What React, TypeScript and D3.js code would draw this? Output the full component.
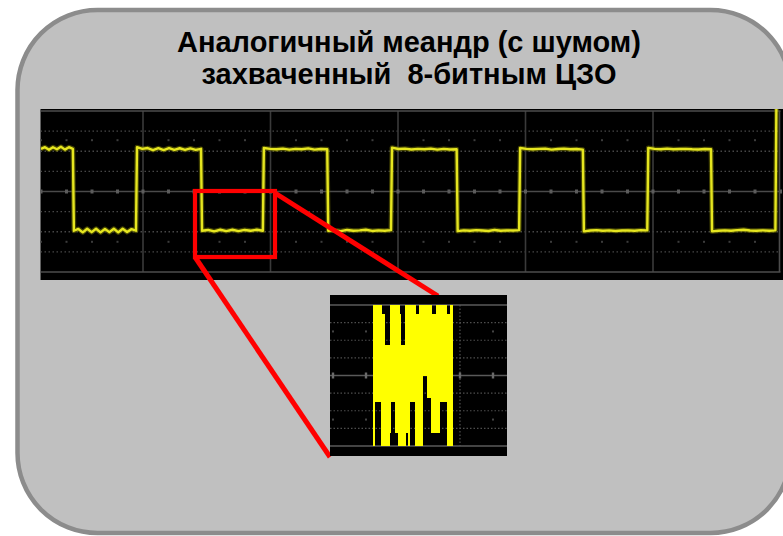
import React from 'react';
import * as d3 from 'd3';

const W = 783;
const H = 536;

// ---------- text ----------
const titleLines = ['Аналогичный меандр (с шумом)', 'захваченный  8-битным ЦЗО'];

// ---------- main scope (time & volts in divisions) ----------
const timeDomain = [-0.8, 5.0];
const voltDomain = [-4, 4];
const majorTimeLines = [0, 1, 2, 3, 4];
const dottedVoltLines = [-3, -2, -1, 1, 2, 3];
const dotRowVolts = [2.55, -2.5];
const highLevel = 2.1;
const lowLevel = -1.95;
const finalLevel = 4.4;
// edges alternate: falling, rising, falling, ...
const edgeTimes = [-0.55, -0.055, 0.455, 0.94, 1.445, 1.945, 2.46, 2.95, 3.45, 3.955, 4.455, 4.96];
// ripple samples (div) for each flat segment
const segmentRipple: number[][] = [
  [0.02, 0.1, -0.03, 0.1, 0.0, 0.12, -0.02, 0.1, 0.02],
  [0.0, 0.09, -0.08, 0.1, -0.07, 0.1, -0.08, 0.09, -0.07, 0.1, -0.08, 0.1, -0.06, 0.08, 0.0],
  [0.1, 0.02, 0.06, -0.04, 0.05, -0.04, 0.06, -0.03, 0.05, -0.03, 0.04, -0.03, 0.02],
  [0.0, 0.04, -0.03, 0.05, -0.02, 0.05, -0.02, 0.04, 0.0, 0.05, 0.0],
  [0.06, 0.02, 0.0, 0.03, -0.02, 0.02, 0.0, 0.04, -0.02, 0.01, 0.0],
  [0.0, 0.02, -0.02, 0.04, 0.0, 0.02, 0.05, -0.01, 0.02, 0.0, 0.03],
  [0.08, 0.01, 0.03, -0.01, 0.02, 0.0, 0.03, -0.02, 0.02, -0.01, 0.0],
  [-0.02, 0.02, 0.0, 0.03, 0.01, -0.01, 0.04, 0.0, 0.02, 0.01, 0.03],
  [0.06, 0.02, 0.0, 0.02, 0.03, -0.02, 0.01, 0.03, 0.0, 0.01, -0.02],
  [-0.03, 0.01, 0.03, 0.0, 0.02, -0.01, 0.01, 0.02, 0.0, 0.03, 0.02],
  [0.07, 0.02, 0.0, 0.03, 0.0, 0.01, 0.02, 0.0, -0.01, 0.01, 0.0],
  [-0.03, 0.0, 0.02, 0.0, 0.03, 0.05, 0.01, 0.0, 0.02, 0.0, 0.02],
  [0.0, 0.0],
];

// ---------- inset (zoomed 8-bit capture) ----------
const insetSampleDomain = [0, 80];
const insetCodeDomain = [0, 16];
const insetDottedCodes = [2, 4, 6, 10, 12, 14];
const insetTickSamples = [-40, -7, 87, 120];
const insetDotCodes = [13.0, 3.0];
const insetVerticalSample = 87;
const insetEdges = [0, 2, 8, 9, 12, 17, 18, 22, 25, 27, 28, 32, 33, 35, 37, 42, 43, 46, 50, 54, 58, 59, 63, 67, 74, 77, 80];
const insetLow = [0, 5, 0, 0, 0, 1.5, 5, 1.5, 0, 0, 0, 0, 1.5, 0, 5, 0, 0, 0, 8, 5.5, 1.5, 1.5, 1.5, 5, 0, 0];
const insetHigh = [16, 16, 16, 15, 11.5, 16, 16, 16, 16, 15, 11.5, 16, 16, 16, 16, 16, 15, 16, 16, 16, 16, 15, 16, 16, 15, 16];

// ---------- layout ----------
const SCREEN = { x0: 40.5, x1: 783, y0: 109, y1: 280 };
const GRID = { x0: 143, x1: 780.5, top: 111, bottom: 272 };
const INSET = { x0: 330, x1: 507, y0: 295, y1: 456, top: 305, bottom: 446, yl: 373, yr: 453 };

export default function App() {
  const divW = (GRID.x1 - GRID.x0) / 5;
  const x = d3.scaleLinear().domain(timeDomain).range([GRID.x0 + timeDomain[0] * divW, GRID.x1]);
  const y = d3.scaleLinear().domain(voltDomain).range([GRID.bottom, GRID.top]);

  // build trace points
  const pts: [number, number][] = [];
  const bounds = [timeDomain[0], ...edgeTimes, timeDomain[1]];
  for (let i = 0; i < bounds.length - 1; i++) {
    const level = i === bounds.length - 2 ? finalLevel : i % 2 === 0 ? highLevel : lowLevel;
    const s = bounds[i] + (i === 0 ? 0 : 0.008);
    const e = bounds[i + 1];
    const r = segmentRipple[i];
    r.forEach((v, j) => {
      pts.push([s + ((e - s) * j) / (r.length - 1), level + v]);
    });
  }
  const tracePath = d3
    .line<[number, number]>()
    .x((d) => x(d[0]))
    .y((d) => y(d[1]))(pts) as string;

  const minorTicks = d3.range(-0.8, 5.0001, 0.2).map((t) => Math.round(t * 10) / 10);

  const ix = d3.scaleLinear().domain(insetSampleDomain).range([INSET.yl, INSET.yr]);
  const iy = d3.scaleLinear().domain(insetCodeDomain).range([INSET.bottom, INSET.top]);

  const gridGray = '#474747';

  return (
    <svg width={W} height={H} style={{ position: 'absolute', left: 0, top: 0, background: '#fff' }}>
      <defs>
        <clipPath id="scr">
          <rect x={SCREEN.x0} y={SCREEN.y0} width={SCREEN.x1 - SCREEN.x0} height={SCREEN.y1 - SCREEN.y0} />
        </clipPath>
      </defs>
      <rect x={0} y={0} width={W} height={H} fill="#fff" />
      {/* rounded panel */}
      <rect x={17.5} y={10} width={773} height={523} rx={80} ry={80} fill="#c0c0c0" stroke="#8c8c8c" strokeWidth={4.5} />
      {/* title */}
      {titleLines.map((t, i) => (
        <text
          key={i}
          x={409}
          y={52 + i * 32}
          textAnchor="middle"
          fontFamily="'Liberation Sans', Arial, sans-serif"
          fontWeight="bold"
          fontSize={29}
          fill="#000"
          style={{ whiteSpace: 'pre' }}
        >
          {t}
        </text>
      ))}
      {/* scope screen */}
      <rect x={SCREEN.x0} y={SCREEN.y0} width={SCREEN.x1 - SCREEN.x0} height={SCREEN.y1 - SCREEN.y0} fill="#000" />
      <g clipPath="url(#scr)">
        {dottedVoltLines.map((v) => (
          <line key={'h' + v} x1={SCREEN.x0} x2={GRID.x1} y1={y(v)} y2={y(v)} stroke={gridGray} strokeWidth={1.3} strokeDasharray="1.5 2.5" />
        ))}
        {majorTimeLines.map((t) => (
          <line key={'v' + t} x1={x(t)} x2={x(t)} y1={GRID.top} y2={GRID.bottom} stroke="#3a3a3a" strokeWidth={1.6} />
        ))}
        <line x1={SCREEN.x0} x2={GRID.x1} y1={y(0)} y2={y(0)} stroke="#4a4a4a" strokeWidth={1.6} />
        {minorTicks.map((t) => (
          <rect key={'t' + t} x={x(t) - 1.5} y={y(0) - 2} width={3} height={4} fill="#5c5c5c" />
        ))}
        {dotRowVolts.map((v) =>
          minorTicks
            .filter((t) => Math.abs(t - Math.round(t)) > 0.05)
            .map((t) => <rect key={'d' + v + t} x={x(t) - 1} y={y(v) - 1} width={2} height={2} fill="#3c3c3c" />)
        )}
        <line x1={SCREEN.x0} x2={GRID.x1} y1={GRID.top} y2={GRID.top} stroke="#4c4c4c" strokeWidth={1.6} />
        <line x1={SCREEN.x0} x2={GRID.x1} y1={GRID.bottom} y2={GRID.bottom} stroke="#4c4c4c" strokeWidth={1.6} />
        <line x1={GRID.x1 - 1} x2={GRID.x1 - 1} y1={GRID.top} y2={GRID.bottom} stroke="#4c4c4c" strokeWidth={1.6} />
        <path d={tracePath} fill="none" stroke="#7a7a00" strokeWidth={4.8} strokeOpacity={0.55} strokeLinejoin="round" />
        <path d={tracePath} fill="none" stroke="#e6e620" strokeWidth={2.4} strokeLinejoin="round" />
      </g>
      {/* zoom box */}
      <rect x={195} y={191} width={80} height={66} fill="none" stroke="#ff0000" strokeWidth={4.2} />
      <line x1={275} y1={193} x2={438} y2={296} stroke="#ff0000" strokeWidth={5} />
      <line x1={195} y1={257} x2={330} y2={457} stroke="#ff0000" strokeWidth={5} />
      {/* inset */}
      <rect x={INSET.x0} y={INSET.y0} width={INSET.x1 - INSET.x0} height={INSET.y1 - INSET.y0} fill="#000" />
      {insetDottedCodes.map((c) => (
        <line key={'ih' + c} x1={INSET.x0} x2={INSET.x1} y1={iy(c)} y2={iy(c)} stroke="#4e4e4e" strokeWidth={1.2} strokeDasharray="1.5 2" />
      ))}
      <line x1={ix(insetVerticalSample)} x2={ix(insetVerticalSample)} y1={INSET.top} y2={INSET.bottom} stroke="#4e4e4e" strokeWidth={1.2} strokeDasharray="1.5 2" />
      <line x1={INSET.x0} x2={INSET.x1} y1={iy(8)} y2={iy(8)} stroke="#5a5a5a" strokeWidth={1.6} />
      <line x1={INSET.x0} x2={INSET.x1} y1={INSET.top} y2={INSET.top} stroke="#5a5a5a" strokeWidth={1.6} />
      <line x1={INSET.x0} x2={INSET.x1} y1={INSET.bottom} y2={INSET.bottom} stroke="#5a5a5a" strokeWidth={1.6} />
      {insetTickSamples.map((s) => (
        <rect key={'it' + s} x={ix(s) - 1.2} y={iy(8) - 3} width={2.4} height={6} fill="#6a6a6a" />
      ))}
      {insetDotCodes.map((c) =>
        insetTickSamples.filter((s) => s !== insetVerticalSample).map((s) => (
          <rect key={'id' + c + s} x={ix(s) - 1} y={iy(c) - 1} width={2} height={2} fill="#444" />
        ))
      )}
      {insetLow.map((lo, i) => (
        <rect
          key={'ic' + i}
          x={ix(insetEdges[i])}
          y={iy(insetHigh[i])}
          width={ix(insetEdges[i + 1]) - ix(insetEdges[i])}
          height={iy(lo) - iy(insetHigh[i])}
          fill="#ffff00"
          shapeRendering="crispEdges"
        />
      ))}
    </svg>
  );
}
